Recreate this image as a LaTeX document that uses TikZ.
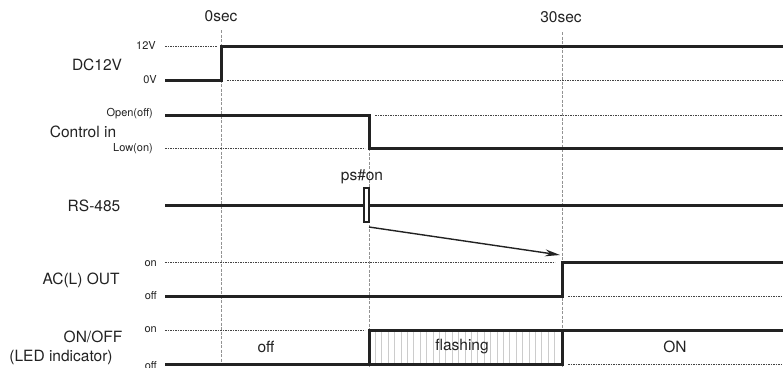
\documentclass[tikz,border=0pt]{standalone}
\usepackage{fontspec}
\setmainfont{TeX Gyre Heros}
\usetikzlibrary{arrows.meta}
\definecolor{ink}{HTML}{222222}
\tikzset{
  sig/.style={draw=ink,line width=3pt,line join=miter},
  lvl/.style={draw=ink!85,line width=0.8pt,dash pattern=on 1.6pt off 0.9pt},
  tick/.style={draw=gray!85,line width=1pt,dash pattern=on 3pt off 1.5pt},
  big/.style={font=\fontsize{15.5}{17}\selectfont,text=ink,inner sep=0pt},
  small/.style={font=\fontsize{11}{13}\selectfont,text=ink,inner sep=0pt,anchor=east},
  hatch/.style={draw=gray!40,line width=0.8pt}
}
\begin{document}
\begin{tikzpicture}[x=1pt,y=-1pt]
\useasboundingbox (0,0) rectangle (783,367);
% time markers
\node[big] (t0) at (221,16) {0sec};
\node[big] (t30) at (561,17) {30sec};
\draw[tick] (221,30) -- (221,367);
\draw[tick] (562,32) -- (562,367);
\draw[tick] (369,148) -- (369,367);
% hatch for flashing
\foreach \x in {375.4,381.8,...,560} \draw[hatch] (\x,331) -- (\x,363);
% DC12V
\node[big] (ldc) at (97,65) {DC12V};
\node[small] (l12) at (156,45) {12V};
\node[small] (l0) at (157,80) {0V};
\draw[lvl] (165,46) -- (217,46);
\draw[lvl] (227,80) -- (783,80);
\draw[sig] (165,80) -- (221,80) -- (221,46) -- (783,46);
% Control in
\node[big] (lci) at (83,132) {Control in};
\node[small] (lop) at (153,114) {Open(off)};
\node[small] (llo) at (153,149) {Low(on)};
\draw[lvl] (375,115) -- (783,115);
\draw[lvl] (165,148) -- (365,148);
\draw[sig] (165,115) -- (369,115) -- (369,148) -- (783,148);
% RS-485
\node[big] (lrs) at (94,206) {RS-485};
\draw[sig] (165,205) -- (783,205);
\node[draw=ink,fill=white,line width=1.2pt,minimum width=5pt,minimum height=34pt,inner sep=0pt] (ps) at (366.5,205) {};
\node[big] (pst) at (362,177) {ps\#on};
\coordinate (pss) at (369,227);
\coordinate (acon) at (560,255);
\draw[draw=ink,line width=1.4pt,-{Stealth[length=15pt,width=7pt]}] (pss) -- (acon);
% AC(L) OUT
\node[big] (lac) at (81,280) {AC(L) OUT};
\node[small] (lacon) at (157,264) {on};
\node[small] (lacoff) at (157,296) {off};
\draw[lvl] (165,262) -- (555,262);
\draw[lvl] (568,296) -- (783,296);
\draw[sig] (165,296) -- (562,296) -- (562,262) -- (783,262);
% LED
\node[big] (lled) at (93,337) {ON/OFF};
\node[big] (lled2) at (61,357) {(LED indicator)};
\node[small] (ledon) at (157,330) {on};
\node[small] (ledoff) at (157,366) {off};
\draw[lvl] (165,330) -- (365,330);
\draw[lvl] (568,364) -- (783,364);
\draw[sig] (165,364) -- (562,364) -- (562,330);
\draw[sig] (369,364) -- (369,330) -- (783,330);
\node[big] (toff) at (266,347) {off};
\node[big] (tfl) at (462,347) {flashing};
\node[big] (ton) at (675,347) {ON};
\end{tikzpicture}
\end{document}
